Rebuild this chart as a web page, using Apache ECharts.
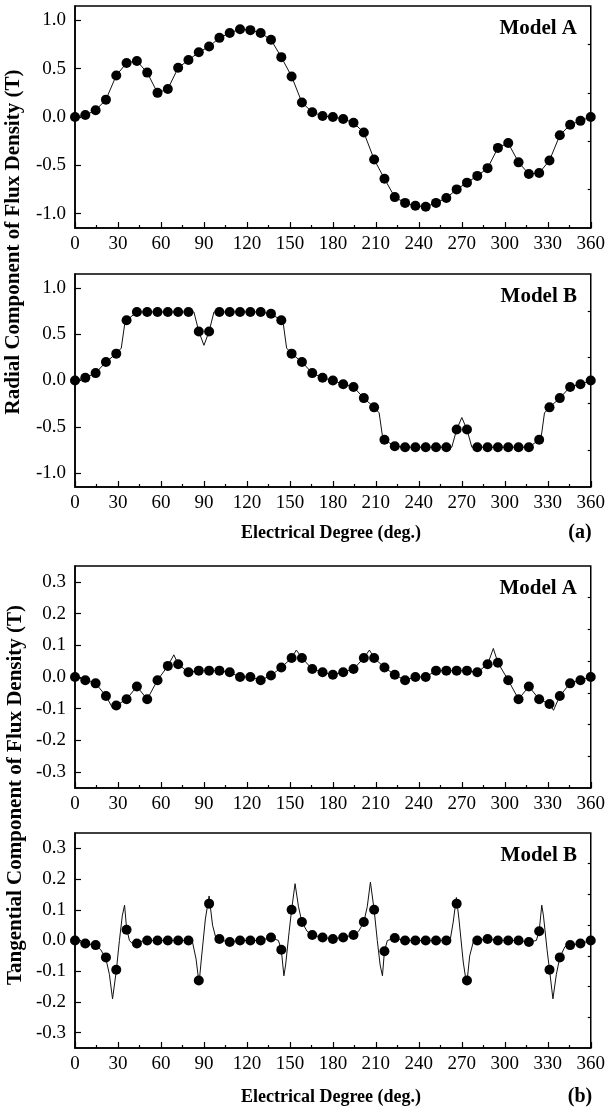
<!DOCTYPE html>
<html>
<head>
<meta charset="utf-8">
<script src="https://cdn.jsdelivr.net/npm/echarts@6/dist/echarts.min.js"></script>
<style>
html,body{margin:0;padding:0;background:#fff;}
#c{width:608px;height:1115px;}
</style>
</head>
<body>
<div id="c"></div>
<script>
// ---- data ----
const degrees = [0,7.2,14.4,21.6,28.8,36,43.2,50.4,57.6,64.8,72,79.2,86.4,93.6,100.8,108,115.2,122.4,129.6,136.8,144,151.2,158.4,165.6,172.8,180,187.2,194.4,201.6,208.8,216,223.2,230.4,237.6,244.8,252,259.2,266.4,273.6,280.8,288,295.2,302.4,309.6,316.8,324,331.2,338.4,345.6,352.8,360];
const xTicks = [0,30,60,90,120,150,180,210,240,270,300,330,360];

const radialA = [0.00,0.02,0.07,0.18,0.43,0.56,0.58,0.46,0.25,0.29,0.51,0.59,0.67,0.73,0.82,0.87,0.91,0.90,0.87,0.80,0.62,0.42,0.15,0.05,0.01,0.00,-0.02,-0.06,-0.16,-0.44,-0.64,-0.83,-0.89,-0.92,-0.93,-0.89,-0.84,-0.75,-0.68,-0.61,-0.53,-0.32,-0.27,-0.47,-0.59,-0.58,-0.45,-0.19,-0.08,-0.04,0.00];

const radialB = [0.00,0.03,0.08,0.20,0.29,0.65,0.74,0.74,0.74,0.74,0.74,0.74,0.53,0.53,0.74,0.74,0.74,0.74,0.74,0.72,0.65,0.29,0.20,0.08,0.03,0.00,-0.04,-0.07,-0.19,-0.29,-0.64,-0.71,-0.72,-0.72,-0.72,-0.72,-0.72,-0.53,-0.53,-0.72,-0.72,-0.72,-0.72,-0.72,-0.72,-0.64,-0.29,-0.19,-0.07,-0.04,0.00];
const radialBCurveExtra = [[32.3,0.35],[34.6,0.60],[83,0.74],[90,0.38],[97,0.74],[145.5,0.60],[147.7,0.35],[212.3,-0.35],[214.6,-0.60],[263,-0.72],[270,-0.40],[277,-0.72],[325.5,-0.60],[327.7,-0.35]];

const tangA = [0.00,-0.01,-0.02,-0.06,-0.09,-0.07,-0.03,-0.07,-0.01,0.035,0.04,0.015,0.02,0.02,0.02,0.015,0.00,0.00,-0.01,0.005,0.03,0.06,0.06,0.025,0.015,0.007,0.015,0.025,0.06,0.06,0.03,0.007,-0.01,0.00,0.00,0.02,0.02,0.02,0.02,0.015,0.04,0.045,-0.01,-0.07,-0.03,-0.07,-0.085,-0.06,-0.02,-0.01,0.00];
const tangACurveExtra = [[26.5,-0.10],[69,0.07],[154.5,0.085],[205.5,0.085],[292,0.09],[334,-0.105]];

const tangB = [0.00,-0.01,-0.015,-0.055,-0.095,0.035,-0.01,0.00,0.00,0.00,0.00,0.00,-0.13,0.12,0.005,-0.005,0.00,0.00,0.00,0.01,-0.03,0.10,0.06,0.018,0.01,0.005,0.01,0.018,0.06,0.10,-0.035,0.008,0.00,0.00,0.00,0.00,0.00,0.12,-0.13,0.00,0.005,0.00,0.00,0.00,-0.005,0.03,-0.095,-0.055,-0.015,-0.01,0.00];
const tangBCurveDeg = [0,7.2,14.4,18,21.6,24,26.2,28.8,31,33,34.6,36,38,40,43.2,50.4,57.6,64.8,72,79.2,82,84.5,86.6,88,91,93.6,96,98.5,100.8,108,115.2,122.4,129.6,136.8,142,144,145.8,147,149.5,151.2,153.6,156,158.4,162,165.6,172.8,180,187.2,194.4,198,201.6,204,206.2,208.8,211,213,214.6,216,218,223.2,230.4,237.6,244.8,252,259.2,262,264,266.2,268,271,273.4,275.5,278,280.8,288,295.2,302.4,309.6,316.8,322,324,325.8,327,329.5,331.2,333.6,336,338.4,342,345.6,352.8,360];
const tangBCurveVal = [0,-0.01,-0.015,-0.03,-0.06,-0.11,-0.19,-0.10,0.0,0.08,0.115,0.04,0.0,-0.01,-0.005,0,0,0,0,0,-0.005,-0.06,-0.14,-0.07,0.07,0.145,0.05,0.005,0.002,-0.005,0,0,0,0.01,0.0,-0.03,-0.115,-0.08,0.03,0.10,0.185,0.11,0.06,0.03,0.018,0.01,0.005,0.01,0.018,0.03,0.06,0.11,0.19,0.10,0.0,-0.08,-0.115,-0.035,0.0,0.008,0,0,0,0,0,0.005,0.06,0.14,0.07,-0.07,-0.145,-0.05,-0.005,0.0,0.005,0,0,0,-0.005,0.0,0.03,0.115,0.08,-0.03,-0.095,-0.19,-0.11,-0.055,-0.02,-0.015,-0.01,0];

const radialTicks = [-1.0,-0.5,0.0,0.5,1.0];
const radialMinor = [-0.75,-0.25,0.25,0.75];
const tangTicks = [-0.3,-0.2,-0.1,0.0,0.1,0.2,0.3];
const tangMinor = [-0.25,-0.15,-0.05,0.05,0.15,0.25];

// ---- build ----
const FONT = "'Liberation Serif','Times New Roman',serif";
const pairs = (xs, ys) => xs.map((x, i) => [x, ys[i]]);
const merge = (base, extra) => base.concat(extra).sort((a, b) => a[0] - b[0]);

const panels = [
  {top: 6, height: 222, min: -1.15, max: 1.15, ticks: radialTicks, minor: radialMinor,
   pts: pairs(degrees, radialA), curve: pairs(degrees, radialA), label: 'Model A'},
  {top: 274, height: 213, min: -1.15, max: 1.15, ticks: radialTicks, minor: radialMinor,
   pts: pairs(degrees, radialB), curve: merge(pairs(degrees, radialB), radialBCurveExtra), label: 'Model B'},
  {top: 566, height: 222, min: -0.35, max: 0.35, ticks: tangTicks, minor: tangMinor,
   pts: pairs(degrees, tangA), curve: merge(pairs(degrees, tangA), tangACurveExtra), label: 'Model A'},
  {top: 833, height: 215, min: -0.35, max: 0.35, ticks: tangTicks, minor: tangMinor,
   pts: pairs(degrees, tangB), curve: pairs(tangBCurveDeg, tangBCurveVal), label: 'Model B'}
];

const grid = [], xAxis = [], yAxis = [], series = [], graphic = [];
panels.forEach((p, i) => {
  grid.push({left: 75, right: 13, top: p.top, height: p.height, show: true,
    borderColor: '#000', borderWidth: 1.5, backgroundColor: 'transparent'});
  xAxis.push({type: 'value', gridIndex: i, min: 0, max: 360, interval: 30,
    axisLine: {show: true, onZero: false, lineStyle: {color: '#000', width: 1.5}},
    axisTick: {show: true, inside: true, length: 6, lineStyle: {color: '#000', width: 1.2}},
    minorTick: {show: true, splitNumber: 2, length: 3, lineStyle: {color: '#000', width: 1.2}},
    splitLine: {show: false}, minorSplitLine: {show: false},
    axisLabel: {color: '#000', fontFamily: FONT, fontSize: 19, margin: 7,
      customValues: xTicks}
  });
  yAxis.push({type: 'value', gridIndex: i, min: p.min, max: p.max,
    axisLine: {show: true, onZero: false, lineStyle: {color: '#000', width: 1.5}},
    axisTick: {show: true, inside: true, length: 6, customValues: p.ticks, lineStyle: {color: '#000', width: 1.2}},
    splitLine: {show: false},
    axisLabel: {color: '#000', fontFamily: FONT, fontSize: 19, margin: 9,
      customValues: p.ticks, formatter: v => v.toFixed(1)}
  });
  series.push({type: 'line', xAxisIndex: i, yAxisIndex: i, data: p.curve,
    showSymbol: false, symbol: 'none', lineStyle: {color: '#111', width: 1}, z: 2, silent: true});
  series.push({type: 'scatter', xAxisIndex: i, yAxisIndex: i, data: p.pts,
    symbol: 'circle', symbolSize: 10, itemStyle: {color: '#000', opacity: 1}, z: 3, silent: true});
  graphic.push({type: 'text', x: 577, y: p.top + 23,
    style: {text: p.label, font: 'bold 21px ' + FONT, fill: '#000', textAlign: 'right', textVerticalAlign: 'middle'}});
});
panels.forEach((p, i) => {
  yAxis.push({type: 'value', gridIndex: i, min: p.min, max: p.max,
    axisLine: {show: false, onZero: false}, splitLine: {show: false},
    axisLabel: {show: false},
    axisTick: {show: true, inside: true, length: 3, customValues: p.minor, lineStyle: {color: '#000', width: 1.2}}
  });
});

graphic.push(
  {type: 'text', x: 14, y: 242, rotation: Math.PI / 2,
   style: {text: 'Radial Component of Flux Density (T)', font: 'bold 21px ' + FONT, fill: '#000', textAlign: 'center', textVerticalAlign: 'middle'}},
  {type: 'text', x: 16, y: 795, rotation: Math.PI / 2,
   style: {text: 'Tangential Component of Flux Density (T)', font: 'bold 21px ' + FONT, fill: '#000', textAlign: 'center', textVerticalAlign: 'middle'}},
  {type: 'text', x: 331, y: 533,
   style: {text: 'Electrical Degree (deg.)', font: 'bold 18px ' + FONT, fill: '#000', textAlign: 'center', textVerticalAlign: 'middle'}},
  {type: 'text', x: 580, y: 533,
   style: {text: '(a)', font: 'bold 20px ' + FONT, fill: '#000', textAlign: 'center', textVerticalAlign: 'middle'}},
  {type: 'text', x: 331, y: 1097,
   style: {text: 'Electrical Degree (deg.)', font: 'bold 18px ' + FONT, fill: '#000', textAlign: 'center', textVerticalAlign: 'middle'}},
  {type: 'text', x: 580, y: 1097,
   style: {text: '(b)', font: 'bold 20px ' + FONT, fill: '#000', textAlign: 'center', textVerticalAlign: 'middle'}}
);

const chart = echarts.init(document.getElementById('c'), null, {renderer: 'canvas'});
chart.setOption({
  animation: false,
  backgroundColor: '#fff',
  grid, xAxis, yAxis, series, graphic
});
</script>
</body>
</html>
